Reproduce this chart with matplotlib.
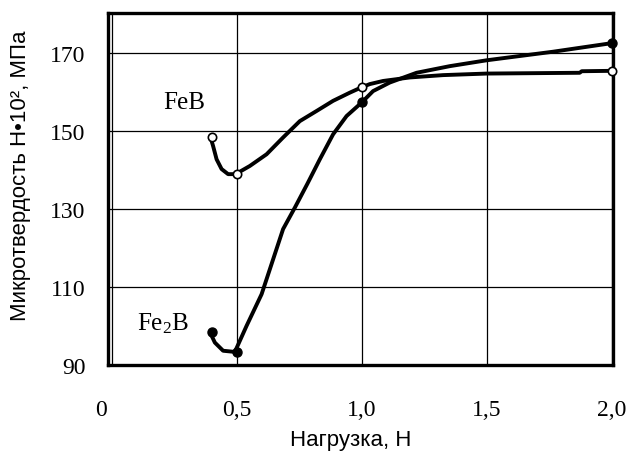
import matplotlib
matplotlib.use("Agg")
import matplotlib.pyplot as plt
import matplotlib.transforms as mtransforms

plt.rcParams["mathtext.fontset"] = "custom"
plt.rcParams["mathtext.rm"] = "Liberation Serif"
plt.rcParams["mathtext.it"] = "Liberation Serif"

# measured points (markers)
feb_x = [0.4, 0.5, 1.0, 2.0]
feb_y = [148.5, 139.0, 161.3, 165.5]
fe2b_x = [0.4, 0.5, 1.0, 2.0]
fe2b_y = [98.5, 93.5, 157.4, 172.6]

# smooth curves
feb_curve_x = [0.395, 0.405, 0.419, 0.439, 0.465, 0.495, 0.552, 0.619, 0.685, 0.752,
               0.819, 0.885, 0.952, 1.0, 1.032, 1.085, 1.192, 1.325, 1.499, 1.872,
               1.88, 2.0]
feb_curve_y = [148.4, 146.2, 142.8, 140.3, 139.0, 139.0, 141.1, 144.1, 148.4, 152.6,
               155.2, 157.8, 159.9, 161.3, 162.1, 162.9, 163.8, 164.4, 164.8, 165.0,
               165.4, 165.5]
fe2b_curve_x = [0.392, 0.412, 0.445, 0.492, 0.539, 0.599, 0.632, 0.685, 0.732, 0.782,
                0.832, 0.885, 0.939, 1.0, 1.045, 1.112, 1.219, 1.352, 1.499, 1.765, 2.0]
fe2b_curve_y = [98.5, 95.8, 93.7, 93.4, 100.1, 108.2, 114.6, 124.9, 130.4, 136.5,
                142.8, 149.2, 153.9, 157.4, 160.3, 162.5, 165.0, 166.7, 168.2, 170.4, 172.6]

xticks = [0, 0.5, 1.0, 1.5, 2.0]
xtick_labels = ["0", "0,5", "1,0", "1,5", "2,0"]
yticks = [90, 110, 130, 150, 170]

fig = plt.figure(figsize=(6.31, 4.56), dpi=100)
ax = fig.add_axes([0.171, 0.197, 0.800, 0.772])

ax.plot(feb_curve_x, feb_curve_y, color="black", lw=2.8, zorder=3,
        solid_joinstyle="round", solid_capstyle="round")
ax.plot(fe2b_curve_x, fe2b_curve_y, color="black", lw=2.8, zorder=3,
        solid_joinstyle="round", solid_capstyle="round")
ax.plot(feb_x, feb_y, "o", ms=6, mfc="white", mec="black", mew=1.2, zorder=4, clip_on=False)
ax.plot(fe2b_x, fe2b_y, "o", ms=6.5, mfc="black", mec="black", zorder=4, clip_on=False)

ax.set_xlim(-0.016, 2.004)
ax.set_ylim(90, 180.3)
ax.set_xticks(xticks)
ax.set_xticklabels(xtick_labels)
ax.set_yticks(yticks)
ax.grid(True, color="black", lw=0.9)
ax.set_axisbelow(True)
ax.tick_params(length=0, labelsize=17)
ax.tick_params(axis="x", pad=24)
ax.tick_params(axis="y", pad=16)
for lab in ax.get_xticklabels() + ax.get_yticklabels():
    lab.set_family("Liberation Serif")
# the "0" label sits a bit left of the frame in the original
lab0 = ax.get_xticklabels()[0]
lab0.set_transform(lab0.get_transform() + mtransforms.ScaledTranslation(-0.11, 0, fig.dpi_scale_trans))
for sp in ax.spines.values():
    sp.set_linewidth(2.4)

ax.text(0.29, 157.4, "FeB", family="Liberation Serif", fontsize=18, ha="center", va="center")
ax.text(0.204, 101, "Fe$_2$B", family="Liberation Serif", fontsize=18, ha="center", va="center")

ax.set_xlabel("Нагрузка, Н", family="Liberation Sans", fontsize=16)
ax.set_ylabel("Микротвердость Н•10², МПа", family="Liberation Sans", fontsize=16)
ax.xaxis.set_label_coords(0.481, -0.18)
ax.yaxis.set_label_coords(-0.152, 0.54)

fig.savefig("out.png", dpi=100)
